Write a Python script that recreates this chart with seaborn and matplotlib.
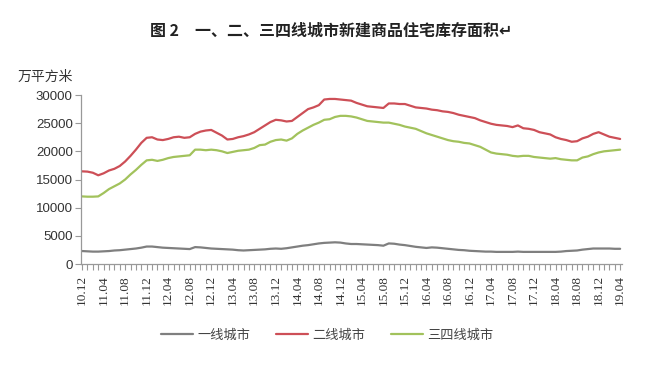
import numpy as np
import pandas as pd
import seaborn as sns
import matplotlib.pyplot as plt

# monthly inventory, 2010.12 - 2019.04 (unit: 10k sqm)
months = pd.period_range('2010-12', '2019-04', freq='M')
labels = [p.strftime('%y.%m') for p in months]

tier1 = [2300, 2250, 2200, 2200, 2250, 2300, 2400, 2450, 2550, 2650, 2750, 2900, 3100,
         3100, 3000, 2900, 2850, 2800, 2750, 2700, 2650, 3000, 2950, 2850, 2750,
         2700, 2650, 2600, 2550, 2450, 2400, 2450, 2500, 2550, 2600, 2700, 2750,
         2700, 2800, 2950, 3100, 3250, 3350, 3500, 3650, 3750, 3800, 3850, 3800,
         3650, 3550, 3550, 3500, 3450, 3400, 3350, 3250, 3650, 3600, 3450, 3350,
         3200, 3050, 2950, 2850, 2950, 2900, 2800, 2700, 2600, 2500, 2450, 2350,
         2300, 2250, 2200, 2200, 2150, 2150, 2150, 2150, 2200, 2150, 2150, 2150,
         2150, 2150, 2150, 2150, 2200, 2300, 2350, 2400, 2550, 2650, 2750, 2750,
         2750, 2750, 2700, 2700]
tier2 = [16450, 16400, 16200, 15750, 16100, 16600, 16900, 17400, 18200, 19200, 20300, 21500, 22400,
         22500, 22100, 22000, 22200, 22500, 22600, 22400, 22500, 23100, 23500, 23700, 23800,
         23300, 22800, 22100, 22200, 22500, 22700, 23000, 23400, 24000, 24600, 25200, 25600,
         25500, 25300, 25400, 26100, 26800, 27500, 27800, 28200, 29200, 29300, 29300, 29200,
         29100, 29000, 28600, 28300, 28000, 27900, 27800, 27700, 28500, 28500, 28400, 28400,
         28100, 27800, 27700, 27600, 27400, 27300, 27100, 27000, 26800, 26500, 26300, 26100,
         25900, 25500, 25200, 24900, 24700, 24600, 24500, 24300, 24600, 24100, 24000, 23800,
         23400, 23200, 23000, 22500, 22200, 22000, 21700, 21800, 22300, 22600, 23100, 23400,
         23000, 22600, 22400, 22200]
tier34 = [12000, 11950, 11950, 12000, 12600, 13300, 13800, 14300, 15000, 15900, 16700, 17600, 18400,
          18500, 18300, 18500, 18800, 19000, 19100, 19200, 19300, 20300, 20300, 20200, 20300,
          20200, 20000, 19700, 19900, 20100, 20200, 20300, 20600, 21100, 21200, 21700, 22000,
          22100, 21900, 22300, 23100, 23700, 24200, 24700, 25100, 25600, 25700, 26100, 26300,
          26300, 26200, 26000, 25700, 25400, 25300, 25200, 25100, 25100, 24900, 24700, 24400,
          24200, 24000, 23600, 23200, 22900, 22600, 22300, 22000, 21800, 21700, 21500, 21400,
          21100, 20800, 20300, 19800, 19600, 19500, 19400, 19200, 19100, 19200, 19200, 19000,
          18900, 18800, 18700, 18800, 18600, 18500, 18400, 18400, 18900, 19100, 19500, 19800,
          20000, 20100, 20200, 20300]

series_names = ['一线城市', '二线城市', '三四线城市']
colors = ['#7f7f7f', '#cd4f57', '#a2c25c']

df = pd.DataFrame({'idx': np.arange(len(labels)),
                   series_names[0]: tier1,
                   series_names[1]: tier2,
                   series_names[2]: tier34})
long_df = df.melt(id_vars='idx', var_name='city', value_name='area')

sns.set_style('white')
plt.rcParams['font.family'] = ['Noto Sans CJK SC', 'DejaVu Sans']

fig = plt.figure(figsize=(6.62, 3.65), dpi=100)
ax = fig.add_axes([0.1224, 0.2767, 0.8176, 0.463])

sns.lineplot(data=long_df, x='idx', y='area', hue='city', hue_order=series_names,
             palette=colors, linewidth=1.6, ax=ax)

ax.set_xlim(-0.2, 100.4)
ax.set_ylim(0, 30000)
ax.set_yticks(range(0, 30001, 5000))
ax.set_yticklabels([str(v) for v in range(0, 30001, 5000)],
                   fontsize=9.5, color='#333333', family='Liberation Sans')
ax.set_xticks(np.arange(0, len(labels), 4))
ax.set_xticklabels(labels[::4], rotation=90, fontsize=9.5,
                   family='Liberation Serif', color='#333333')
ax.set_xticks(np.arange(0, len(labels)), minor=True)
ax.tick_params(axis='x', which='both', bottom=True, length=4, width=0.8,
               color='#999999', direction='out', pad=4)
ax.tick_params(axis='y', left=True, length=4, color='#999999', direction='out', pad=2)
for side in ['top', 'right']:
    ax.spines[side].set_visible(False)
for side in ['left', 'bottom']:
    ax.spines[side].set_color('#999999')
    ax.spines[side].set_linewidth(0.9)
ax.set_xlabel('')
ax.set_ylabel('')

leg = ax.legend(loc='center', bbox_to_anchor=(0.455, -0.42), ncol=3, frameon=False,
                fontsize=9.5, handlelength=2.4, handletextpad=0.3, columnspacing=2.0)
for t in leg.get_texts():
    t.set_color('#444444')

fig.text(0.5, 1 - 31 / 365, '图 2\u3000一、二、三四线城市新建商品住宅库存面积\u21b5',
         ha='center', va='center', fontsize=11.5, fontweight='bold', color='#222222')
fig.text(18 / 662, 1 - 77 / 365, '万平方米', ha='left', va='center', fontsize=10, color='#333333')

fig.savefig('out.png', dpi=100, facecolor='white')
